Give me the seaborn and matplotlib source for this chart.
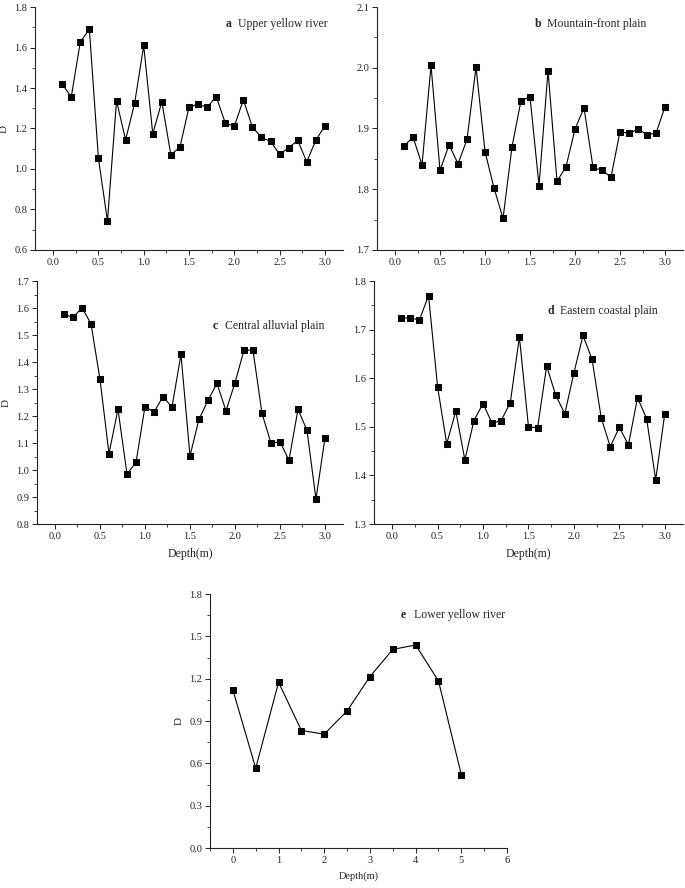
import numpy as np
import pandas as pd
import matplotlib
matplotlib.use("Agg")
import matplotlib.pyplot as plt
from matplotlib.ticker import MultipleLocator
import seaborn as sns

# Depth steps (m)
depth_30 = [round(0.1 * i, 1) for i in range(1, 31)]
depth_e = [0, 0.5, 1, 1.5, 2, 2.5, 3, 3.5, 4, 4.5, 5]

# Fractal dimension D per region
d_upper = [1.42, 1.355, 1.627, 1.691, 1.053, 0.743, 1.337, 1.144, 1.325, 1.610,
           1.174, 1.332, 1.070, 1.108, 1.305, 1.320, 1.304, 1.358, 1.228, 1.210,
           1.342, 1.207, 1.156, 1.136, 1.073, 1.104, 1.142, 1.035, 1.142, 1.213]
d_mountain = [1.871, 1.886, 1.840, 2.004, 1.831, 1.873, 1.842, 1.882, 2.001, 1.862,
              1.802, 1.752, 1.870, 1.946, 1.952, 1.806, 1.995, 1.813, 1.837, 1.899,
              1.934, 1.836, 1.831, 1.820, 1.895, 1.892, 1.899, 1.890, 1.892, 1.936]
d_central = [1.578, 1.565, 1.601, 1.542, 1.336, 1.061, 1.225, 0.985, 1.028, 1.235,
             1.214, 1.272, 1.233, 1.428, 1.052, 1.188, 1.258, 1.321, 1.219, 1.323,
             1.444, 1.444, 1.210, 1.099, 1.105, 1.036, 1.225, 1.147, 0.892, 1.119]
d_eastern = [1.724, 1.724, 1.720, 1.770, 1.582, 1.465, 1.532, 1.432, 1.513, 1.548,
             1.507, 1.513, 1.550, 1.685, 1.500, 1.498, 1.625, 1.565, 1.527, 1.611,
             1.688, 1.639, 1.519, 1.459, 1.499, 1.463, 1.560, 1.517, 1.391, 1.527]
d_lower = [1.121, 0.566, 1.175, 0.833, 0.807, 0.972, 1.215, 1.408, 1.439, 1.184, 0.519]

sns.set_style("ticks")
plt.rcParams['font.family'] = ['Liberation Serif', 'DejaVu Serif']

fig = plt.figure(figsize=(6.85, 8.88), dpi=100)

panels = [
    # letter, name, x, y, rect, ylim, ymajor, xlim, xmajor, text pos, ylabel, xlabel
    ('a', 'Upper yellow river', depth_30, d_upper, [0.0511, 0.7185, 0.4496, 0.2736],
     (0.6, 1.8), 0.2, (-0.2, 3.2), 0.5, (0.62, 0.93), True, False),
    ('b', 'Mountain-front plain', depth_30, d_mountain, [0.5504, 0.7185, 0.4467, 0.2736],
     (1.7, 2.1), 0.1, (-0.2, 3.2), 0.5, (0.516, 0.93), False, False),
    ('c', 'Central alluvial plain', depth_30, d_central, [0.054, 0.4099, 0.4467, 0.2736],
     (0.8, 1.7), 0.1, (-0.2, 3.2), 0.5, (0.575, 0.815), True, True),
    ('d', 'Eastern coastal plain', depth_30, d_eastern, [0.546, 0.4099, 0.451, 0.2736],
     (1.3, 1.8), 0.1, (-0.2, 3.2), 0.5, (0.56, 0.877), False, True),
    ('e', 'Lower yellow river', depth_e, d_lower, [0.3066, 0.045, 0.4336, 0.286],
     (0.0, 1.8), 0.3, (-0.5, 6.0), 1.0, (0.643, 0.917), True, True),
]

for letter, name, xs, ys, rect, ylim, ymaj, xlim, xmaj, tpos, ylab, xlab in panels:
    ax = fig.add_axes(rect)
    df = pd.DataFrame({'depth': xs, 'D': ys})
    sns.lineplot(data=df, x='depth', y='D', ax=ax, color='black', linewidth=0.8,
                 marker='s', markersize=4, markeredgecolor='black', markerfacecolor='black')
    ax.set_ylim(*ylim)
    ax.set_xlim(*xlim)
    ax.yaxis.set_major_locator(MultipleLocator(ymaj))
    ax.yaxis.set_minor_locator(MultipleLocator(ymaj / 2))
    ax.xaxis.set_major_locator(MultipleLocator(xmaj))
    ax.xaxis.set_minor_locator(MultipleLocator(xmaj / 2))
    if letter == 'e':
        ax.xaxis.set_major_formatter(plt.FormatStrFormatter('%d'))
    else:
        ax.xaxis.set_major_formatter(plt.FormatStrFormatter('%.1f'))
    ax.yaxis.set_major_formatter(plt.FormatStrFormatter('%.1f'))
    sns.despine(ax=ax)
    for s in ['left', 'bottom']:
        ax.spines[s].set_linewidth(0.8)
        ax.spines[s].set_color('#222222')
    ax.tick_params(which='major', direction='out', length=3.5, width=0.7,
                   labelsize=7.5, colors='#222222', pad=2)
    ax.tick_params(which='minor', direction='out', length=2, width=0.6, colors='#222222')
    ax.set_ylabel('D' if ylab else '', fontsize=8, labelpad=4)
    if xlab:
        ax.set_xlabel('Depth(m)', fontsize=8.5 if letter != 'e' else 7.5, labelpad=5)
    else:
        ax.set_xlabel('')
    ax.text(tpos[0], tpos[1], letter, transform=ax.transAxes, fontsize=8.5,
            fontweight='bold', va='center', ha='left')
    ax.annotate(name, xy=tpos, xycoords='axes fraction', xytext=(9, 0),
                textcoords='offset points', fontsize=8.5, va='center', ha='left')

fig.savefig('out.png', dpi=100)
